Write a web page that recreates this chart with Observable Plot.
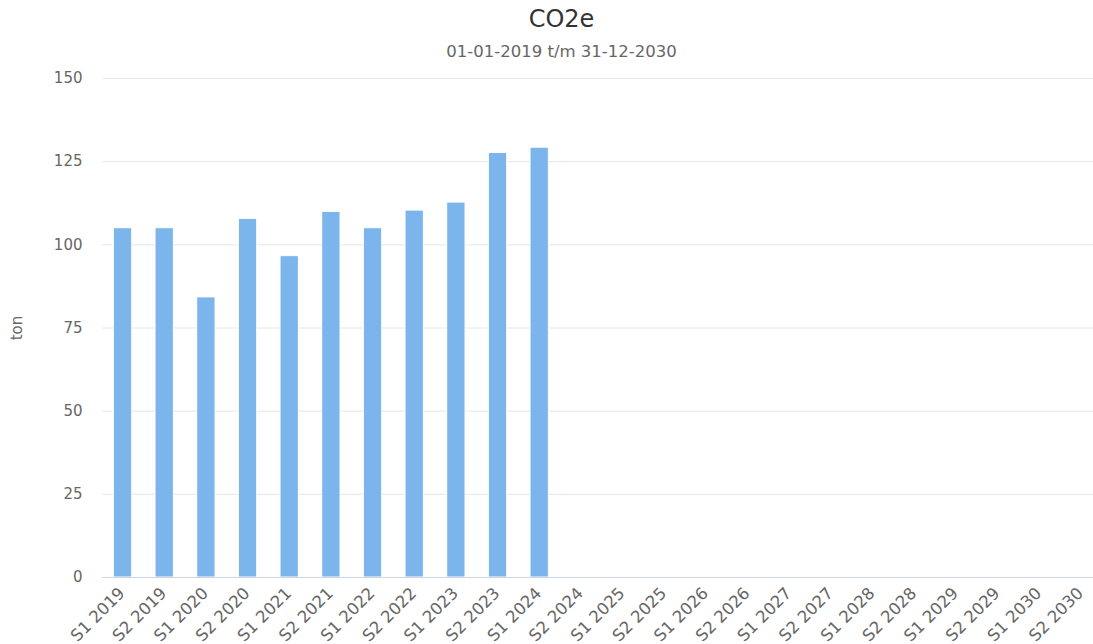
<!DOCTYPE html>
<html>
<head>
<meta charset="utf-8">
<script src="https://cdn.jsdelivr.net/npm/d3@7"></script>
<script src="https://cdn.jsdelivr.net/npm/@observablehq/plot@0.6"></script>
<style>
  html, body { margin: 0; padding: 0; background: #fff; }
  body { width: 1093px; height: 644px; overflow: hidden; font-family: "DejaVu Sans", Verdana, sans-serif; }
  #title { position: absolute; left: 15px; width: 1093px; top: 4px; line-height: 30px; text-align: center; font-size: 24px; color: #333; }
  #subtitle { position: absolute; left: 15px; width: 1093px; top: 41px; line-height: 22px; text-align: center; font-size: 16.5px; color: #666; }
  #chart { position: absolute; left: 0; top: 70px; }
</style>
</head>
<body>
<div id="title">CO2e</div>
<div id="subtitle">01-01-2019 t/m 31-12-2030</div>
<div id="chart"></div>
<script>
const categories = [
  "S1 2019","S2 2019","S1 2020","S2 2020","S1 2021","S2 2021",
  "S1 2022","S2 2022","S1 2023","S2 2023","S1 2024","S2 2024",
  "S1 2025","S2 2025","S1 2026","S2 2026","S1 2027","S2 2027",
  "S1 2028","S2 2028","S1 2029","S2 2029","S1 2030","S2 2030"
];
const values = [105.0, 105.0, 84.2, 107.8, 96.6, 109.9, 105.0, 110.3, 112.7, 127.6, 129.2,
  null, null, null, null, null, null, null, null, null, null, null, null, null];
const yTicks = [0, 25, 50, 75, 100, 125, 150];
const yLabel = "ton";

const data = categories.map((c, i) => ({category: c, value: values[i]})).filter(d => d.value != null);

const chart = Plot.plot({
  width: 1093,
  height: 574,
  marginLeft: 102,
  marginRight: 0,
  marginTop: 8,
  marginBottom: 67,
  style: {fontFamily: "'DejaVu Sans', Verdana, sans-serif", fontSize: "15px", color: "#666", background: "white"},
  x: {domain: categories, range: [101.7, 1101.7], round: false, paddingInner: 0.56, paddingOuter: 0.28, label: null},
  y: {domain: [0, 150], label: null},
  marks: [
    Plot.ruleY(yTicks.filter(t => t > 0), {stroke: "#e6e6e6", strokeWidth: 1}),
    Plot.barY(data, {x: "category", y: "value", fill: "#7cb5ec", stroke: "white", strokeWidth: 1}),
    Plot.ruleY([0], {stroke: "#ccd6eb", strokeWidth: 1}),
    Plot.axisY({ticks: yTicks, tickSize: 0, tickPadding: 20, fontSize: 15, label: yLabel, labelAnchor: "center", labelArrow: "none", labelOffset: 91, fill: "#666"}),
    Plot.axisX({tickRotate: -45, tickSize: 0, tickPadding: 13, dx: -1, fontSize: 16.5, fill: "#666", label: null})
  ]
});
document.getElementById("chart").appendChild(chart);
</script>
</body>
</html>
